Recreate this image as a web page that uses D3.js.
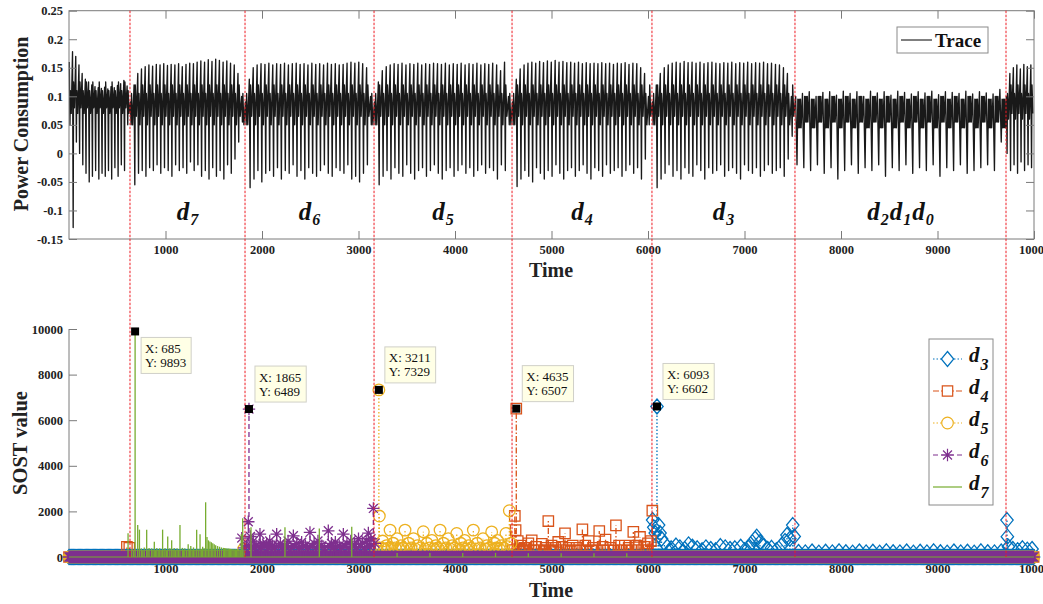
<!DOCTYPE html>
<html>
<head>
<meta charset="utf-8">
<script src="https://cdn.jsdelivr.net/npm/d3@7"></script>
<style>
  body { margin: 0; background: #fff; }
  svg { display: block; }
</style>
</head>
<body>
<svg id="chart" width="1043" height="604"></svg>
<script>
// ---------------- data ----------------
const timeTicks = [1000, 2000, 3000, 4000, 5000, 6000, 7000, 8000, 9000, 10000];
const powerTicks = [-0.15, -0.1, -0.05, 0, 0.05, 0.1, 0.15, 0.2, 0.25];
const sostTicks = [0, 2000, 4000, 6000, 8000, 10000];

// detected change points (time)
const changePoints = [632, 1824, 3161, 4591, 6041, 7523, 9710];
// trace segments between change points
const segmentBounds = [0, 632, 1824, 3161, 4591, 6041, 7523, 9710, 10000];
const segmentLabels = [[], ["7"], ["6"], ["5"], ["4"], ["3"], ["2", "1", "0"], []];

// per-segment cycle peaks / troughs of the power trace
const traceHighs = [
  [0.16, 0.178, 0.17, 0.155, 0.14, 0.13, 0.125, 0.12, 0.117, 0.115, 0.114, 0.116, 0.113, 0.117, 0.115, 0.119, 0.122, 0.128, 0.118],
  [0.09, 0.12, 0.14, 0.148, 0.152, 0.155, 0.153, 0.156, 0.155, 0.157, 0.154, 0.156, 0.155, 0.157, 0.152, 0.156, 0.158, 0.157, 0.16, 0.162, 0.16, 0.164, 0.161, 0.165, 0.163, 0.16, 0.162, 0.158, 0.155, 0.14, 0.1],
  [0.09, 0.13, 0.15, 0.155, 0.157, 0.156, 0.158, 0.155, 0.157, 0.156, 0.158, 0.155, 0.157, 0.158, 0.156, 0.157, 0.155, 0.158, 0.156, 0.157, 0.155, 0.158, 0.156, 0.157, 0.155, 0.156, 0.158, 0.16, 0.158, 0.16, 0.157, 0.15, 0.1],
  [0.09, 0.125, 0.145, 0.152, 0.155, 0.157, 0.156, 0.158, 0.155, 0.157, 0.156, 0.158, 0.155, 0.157, 0.156, 0.158, 0.157, 0.156, 0.158, 0.155, 0.157, 0.156, 0.158, 0.155, 0.157, 0.156, 0.158, 0.155, 0.157, 0.156, 0.158, 0.155, 0.145, 0.16, 0.1],
  [0.09, 0.13, 0.148, 0.155, 0.158, 0.16, 0.158, 0.161, 0.159, 0.162, 0.16, 0.163, 0.16, 0.161, 0.159, 0.16, 0.158, 0.16, 0.157, 0.159, 0.157, 0.158, 0.157, 0.159, 0.157, 0.158, 0.156, 0.158, 0.157, 0.159, 0.156, 0.158, 0.157, 0.15, 0.14, 0.1],
  [0.09, 0.12, 0.14, 0.15, 0.155, 0.158, 0.16, 0.158, 0.161, 0.159, 0.16, 0.158, 0.16, 0.157, 0.159, 0.16, 0.158, 0.157, 0.159, 0.158, 0.16, 0.157, 0.159, 0.158, 0.16, 0.157, 0.159, 0.158, 0.16, 0.157, 0.158, 0.156, 0.155, 0.15, 0.14, 0.1],
  [0.1, 0.105, 0.108, 0.1, 0.107, 0.108, 0.102, 0.109, 0.105, 0.108, 0.1, 0.109, 0.106, 0.108, 0.102, 0.109, 0.107, 0.104, 0.108, 0.106, 0.109, 0.103, 0.108, 0.107, 0.105, 0.109, 0.104, 0.108, 0.106, 0.104, 0.112],
  [0.1, 0.14, 0.15, 0.155, 0.148, 0.156, 0.152, 0.155]
];
const traceLows = [
  [0.05, -0.13, 0.02, 0.0, -0.02, -0.035, -0.05, -0.04, -0.03, -0.045, -0.035, -0.04, -0.03, -0.045, -0.025, -0.04, -0.02, -0.03, 0.05],
  [0.05, -0.055, -0.035, -0.03, -0.04, -0.025, -0.03, -0.02, -0.035, -0.025, -0.03, -0.04, -0.02, -0.03, -0.025, -0.035, -0.015, -0.03, -0.02, -0.04, -0.03, -0.045, -0.025, -0.04, -0.03, -0.045, -0.02, -0.035, -0.01, 0.02, 0.055],
  [0.05, -0.06, -0.045, -0.03, -0.05, -0.035, -0.03, -0.04, -0.025, -0.045, -0.03, -0.035, -0.02, -0.04, -0.03, -0.045, -0.025, -0.035, -0.04, -0.03, -0.02, -0.035, -0.04, -0.025, -0.03, -0.035, -0.02, -0.045, -0.04, -0.05, -0.035, -0.02, 0.05],
  [0.05, -0.055, -0.04, -0.03, -0.045, -0.025, -0.035, -0.04, -0.02, -0.035, -0.045, -0.03, -0.025, -0.04, -0.03, -0.02, -0.035, -0.045, -0.03, -0.025, -0.04, -0.03, -0.02, -0.035, -0.025, -0.04, -0.03, -0.02, -0.035, -0.025, -0.03, -0.045, -0.02, -0.03, 0.05],
  [0.05, -0.058, -0.045, -0.03, -0.04, -0.05, -0.025, -0.035, -0.045, -0.03, -0.04, -0.02, -0.035, -0.045, -0.03, -0.025, -0.04, -0.03, -0.02, -0.035, -0.045, -0.025, -0.03, -0.04, -0.02, -0.035, -0.03, -0.025, -0.04, -0.03, -0.02, -0.035, -0.025, -0.045, -0.01, 0.05],
  [0.05, -0.06, -0.045, -0.035, -0.02, -0.04, -0.03, -0.045, -0.025, -0.035, -0.04, -0.02, -0.03, -0.045, -0.025, -0.035, -0.03, -0.02, -0.04, -0.03, -0.025, -0.035, -0.045, -0.02, -0.03, -0.035, -0.025, -0.04, -0.03, -0.02, -0.035, -0.03, -0.025, -0.04, -0.01, 0.03],
  [-0.02, -0.025, -0.03, -0.02, -0.035, -0.025, -0.045, -0.03, -0.02, -0.035, -0.025, -0.03, -0.02, -0.04, -0.025, -0.03, -0.02, -0.035, -0.025, -0.03, -0.02, -0.04, -0.025, -0.03, -0.02, -0.035, -0.03, -0.025, -0.02, -0.03, 0.02],
  [0.0, -0.03, -0.02, -0.035, -0.015, -0.03, -0.02, -0.025]
];
// dense core of each segment: two upper and two lower levels, ripples per cycle
const traceBandLo = [[0.08, 0.07], [0.065, 0.05], [0.065, 0.05], [0.065, 0.05], [0.065, 0.05], [0.065, 0.05], [0.055, 0.045], [0.07, 0.06]];
const traceBandHi = [[0.11, 0.125], [0.105, 0.12], [0.105, 0.12], [0.105, 0.12], [0.105, 0.12], [0.105, 0.12], [0.095, 0.1], [0.105, 0.12]];
const traceRipples = [1, 1, 1, 1, 1, 1, 3, 1];

// SOST values: non-zero samples [time, value]; every other sample is 0
const d3Points = [[6048,1620],[6060,1300],[6075,1050],[6093,6602],[6110,1400],[6125,1050],[6140,800],[6170,600],[6200,450],[6240,380],[6290,500],[6330,420],[6380,350],[6420,550],[6460,450],[6510,380],[6560,300],[6600,420],[6650,350],[6700,300],[6750,480],[6800,420],[6850,350],[6900,380],[6960,450],[7000,300],[7040,400],[7080,650],[7110,800],[7126,890],[7160,650],[7200,500],[7240,350],[7280,400],[7330,300],[7380,500],[7420,700],[7440,960],[7470,800],[7500,1400],[7515,900],
  [7560,220],[7630,200],[7700,240],[7770,190],[7840,230],[7910,200],[7980,250],[8050,210],[8120,190],[8190,240],[8260,200],[8330,230],[8400,190],[8470,250],[8540,210],[8610,200],[8680,240],[8750,190],[8820,230],[8890,200],[8960,250],[9030,210],[9100,190],[9170,240],[9240,200],[9310,230],[9380,190],[9450,250],[9520,210],[9590,200],[9660,240],
  [9720,1620],[9724,890],[9735,450],[9780,350],[9830,300],[9880,380],[9930,320],[9980,350]];
const d4Points = [[600,450],[625,400],[4600,300],[4620,1800],[4628,1180],[4635,6507],[4650,700],[4665,350],[4680,500],[4700,300],[4720,400],[4740,250],[4760,600],[4795,730],[4820,300],[4840,450],[4870,300],[4900,580],[4920,250],[4940,400],[4967,1577],[4985,300],[5000,500],[5020,250],[5040,400],[5070,660],[5090,300],[5110,450],[5140,1036],[5160,300],[5180,400],[5200,250],[5220,500],[5240,300],[5260,400],[5290,280],[5320,1210],[5350,500],[5365,300],[5385,700],[5410,280],[5430,400],[5460,300],[5495,1140],[5530,450],[5545,280],[5560,760],[5585,300],[5610,400],[5640,280],[5668,1387],[5700,500],[5730,300],[5760,500],[5780,280],[5800,400],[5825,300],[5848,1100],[5880,500],[5900,300],[5917,880],[5940,300],[5960,450],[5980,300],[6000,600],[6030,700],[6045,2030]];
const d5Points = [[1810,350],[3190,400],[3211,7329],[3216,1796],[3235,400],[3250,700],[3270,350],[3290,500],[3310,400],[3327,1180],[3345,350],[3360,600],[3380,400],[3400,800],[3420,350],[3440,500],[3460,400],[3482,1180],[3500,350],[3520,600],[3545,400],[3570,800],[3590,350],[3610,500],[3640,400],[3672,1110],[3690,350],[3710,600],[3735,400],[3760,730],[3780,350],[3800,500],[3820,400],[3845,1180],[3865,350],[3880,600],[3905,400],[3930,800],[3950,350],[3970,500],[3995,400],[4018,1030],[4040,350],[4060,600],[4080,400],[4100,730],[4120,350],[4140,500],[4165,400],[4190,1180],[4210,350],[4230,600],[4260,400],[4290,800],[4310,350],[4330,500],[4355,400],[4380,1100],[4395,350],[4410,600],[4425,400],[4440,730],[4460,350],[4480,500],[4505,400],[4528,1030],[4545,450],[4563,2030],[4580,600]];
const d6Points = [[1790,830],[1815,400],[1840,500],[1858,1546],[1865,6489],[1880,900],[1895,450],[1910,700],[1925,400],[1940,500],[1960,450],[1979,1000],[1995,400],[2010,600],[2030,450],[2048,580],[2065,400],[2080,700],[2095,450],[2110,500],[2130,400],[2152,1000],[2170,450],[2190,600],[2210,400],[2230,500],[2250,450],[2270,700],[2300,400],[2325,930],[2340,450],[2360,600],[2385,400],[2411,650],[2430,450],[2450,500],[2475,400],[2497,1080],[2520,450],[2540,600],[2560,400],[2580,700],[2600,450],[2620,500],[2650,400],[2687,1150],[2705,450],[2720,600],[2740,400],[2760,650],[2780,450],[2800,500],[2820,400],[2843,1000],[2860,450],[2880,600],[2900,400],[2920,700],[2940,450],[2960,550],[2980,400],[3000,800],[3020,450],[3040,600],[3060,400],[3080,700],[3102,1050],[3115,450],[3130,800],[3154,2130],[3170,600]];
const d7Points = [[612,1040],[650,350],[670,300],[685,9893],[712,1400],[730,1200],[750,380],[765,300],[780,420],[805,1200],[818,320],[830,400],[855,380],[870,320],[884,670],[898,300],[910,400],[925,320],[940,380],[955,300],[970,1200],[985,320],[995,400],[1010,300],[1023,900],[1045,380],[1064,730],[1078,320],[1090,400],[1105,300],[1120,380],[1135,320],[1150,1400],[1175,400],[1188,320],[1200,380],[1218,320],[1235,560],[1250,340],[1262,480],[1277,330],[1290,420],[1305,330],[1323,1200],[1340,340],[1358,1000],[1372,350],[1385,450],[1400,380],[1416,2400],[1430,880],[1445,730],[1460,680],[1475,650],[1490,600],[1505,560],[1520,520],[1540,480],[1560,450],[1580,420],[1600,400],[1612,390],[1625,380],[1637,375],[1650,370],[1662,365],[1675,360],[1687,355],[1700,350],[1712,345],[1725,340],[1737,335],[1750,330],[1762,325],[1775,320],[1785,1000],[1800,1700],[1815,300],[1886,1300],[2238,1300],[2594,1250],[2930,1330],[3400,180],[3740,180],[4080,180],[4420,180],[4760,160],[5100,160],[5440,160],[5780,160]];
const zeroSampleStep = 12;   // spacing of the zero-valued samples drawn with markers

// annotated maxima
const peakTips = [
  { x: 685, y: 9893, below: true },
  { x: 1865, y: 6489 },
  { x: 3211, y: 7329 },
  { x: 4635, y: 6507 },
  { x: 6093, y: 6602 }
];

// ---------------- setup ----------------
const svg = d3.select("#chart");
const SERIF = "'Liberation Serif', 'Times New Roman', serif";
const AXIS_GRAY = "#7a7a7a";
const LABEL_COLOR = "#1e1e1e";

const x = d3.scaleLinear().domain([0, 10000]).range([69, 1034]);
const yTop = d3.scaleLinear().domain([-0.15, 0.25]).range([239, 10.7]);
const yBot = d3.scaleLinear().domain([0, 10000]).range([557, 329]);

function styleAxis(g, showLabels) {
  g.select(".domain").remove();
  g.selectAll(".tick line").attr("stroke", AXIS_GRAY).attr("stroke-width", 1);
  g.selectAll(".tick text")
    .attr("font-family", SERIF).attr("font-weight", "bold")
    .attr("font-size", "12.5px").attr("fill", LABEL_COLOR);
  if (!showLabels) g.selectAll(".tick text").remove();
}

// ---------------- upper panel: power trace ----------------
const tracePanel = svg.append("g");

// trace vertices from cycle peaks/troughs
const tracePoints = [];
segmentBounds.slice(0, -1).forEach((s, k) => {
  const e = segmentBounds[k + 1];
  const hi = traceHighs[k], lo = traceLows[k];
  const n = hi.length, p = (e - s) / n;
  const r = traceRipples[k];
  for (let i = 0; i < n; i++) {
    const t0 = s + i * p;
    const bHi = traceBandHi[k][i % 2], bLo = traceBandLo[k][(i + 1) % 2];
    tracePoints.push([t0 + 0.1 * p, hi[i]]);
    tracePoints.push([t0 + 0.3 * p, lo[i]]);
    for (let j = 0; j < r; j++) {
      const f = 0.42 + 0.58 * j / r;
      tracePoints.push([t0 + f * p, bHi]);
      tracePoints.push([t0 + (f + 0.28 / r) * p, bLo]);
    }
  }
});

tracePanel.append("path")
  .datum(tracePoints)
  .attr("fill", "none")
  .attr("stroke", "#000")
  .attr("stroke-opacity", 0.9)
  .attr("stroke-width", 1.35)
  .attr("stroke-linejoin", "round")
  .attr("d", d3.line().x(d => x(d[0])).y(d => yTop(d[1])));

// axes with inward ticks, boxed
tracePanel.append("g").attr("transform", "translate(0,239)")
  .call(d3.axisBottom(x).tickValues(timeTicks).tickSize(-8).tickPadding(6).tickFormat(d3.format("d")))
  .call(g => styleAxis(g, true));
tracePanel.append("g").attr("transform", "translate(0,10.7)")
  .call(d3.axisTop(x).tickValues(timeTicks).tickSize(-8))
  .call(g => styleAxis(g, false));
tracePanel.append("g").attr("transform", "translate(69,0)")
  .call(d3.axisLeft(yTop).tickValues(powerTicks).tickSize(-8).tickPadding(6).tickFormat(d => String(+d.toFixed(2))))
  .call(g => styleAxis(g, true));
tracePanel.append("g").attr("transform", "translate(1034,0)")
  .call(d3.axisRight(yTop).tickValues(powerTicks).tickSize(-8))
  .call(g => styleAxis(g, false));
tracePanel.append("rect")
  .attr("x", 69).attr("y", 10.7).attr("width", 1034 - 69).attr("height", 239 - 10.7)
  .attr("fill", "none").attr("stroke", AXIS_GRAY).attr("stroke-width", 1);

// segment labels d_k
segmentLabels.forEach((subs, k) => {
  if (!subs.length) return;
  const cx = x((segmentBounds[k] + segmentBounds[k + 1]) / 2);
  const t = tracePanel.append("text")
    .attr("x", cx).attr("y", 220)
    .attr("text-anchor", "middle")
    .attr("font-family", SERIF).attr("font-weight", "bold").attr("font-style", "italic")
    .attr("font-size", "25px").attr("fill", "#111");
  subs.forEach((s, i) => {
    t.append("tspan").attr("dy", i === 0 ? 0 : -5).attr("dx", i === 0 ? 0 : 1).text("d");
    t.append("tspan").attr("font-size", "16px").attr("dy", 5).attr("dx", 1).text(s);
  });
});

// legend
tracePanel.append("rect").attr("x", 897).attr("y", 27).attr("width", 91).attr("height", 26)
  .attr("fill", "#fff").attr("stroke", "#8a8a8a");
tracePanel.append("line").attr("x1", 901).attr("x2", 932).attr("y1", 40).attr("y2", 40)
  .attr("stroke", "#000").attr("stroke-width", 1);
tracePanel.append("text").attr("x", 935).attr("y", 47)
  .attr("font-family", SERIF).attr("font-weight", "bold").attr("font-size", "19px")
  .attr("fill", "#111").text("Trace");

// axis titles
tracePanel.append("text")
  .attr("transform", "translate(28,124) rotate(-90)")
  .attr("text-anchor", "middle")
  .attr("font-family", SERIF).attr("font-weight", "bold").attr("font-size", "20px")
  .attr("fill", "#222").text("Power Consumption");
tracePanel.append("text").attr("x", 551).attr("y", 277).attr("text-anchor", "middle")
  .attr("font-family", SERIF).attr("font-weight", "bold").attr("font-size", "20px")
  .attr("fill", "#222").text("Time");

// ---------------- lower panel: SOST values ----------------
const sostPanel = svg.append("g");

sostPanel.append("g").attr("transform", "translate(69,0)")
  .call(d3.axisLeft(yBot).tickValues(sostTicks).tickSize(-8).tickPadding(6).tickFormat(d3.format("d")))
  .call(g => styleAxis(g, true));
sostPanel.append("line").attr("x1", 69).attr("x2", 69).attr("y1", 329).attr("y2", 557)
  .attr("stroke", AXIS_GRAY);
sostPanel.append("g").attr("transform", "translate(0,557)")
  .call(d3.axisBottom(x).tickValues(timeTicks).tickSize(-8).tickPadding(7).tickFormat(d3.format("d")))
  .call(g => styleAxis(g, true));
sostPanel.append("line").attr("x1", 69).attr("x2", 1034).attr("y1", 557).attr("y2", 557)
  .attr("stroke", AXIS_GRAY);

const markerShapes = {
  diamond: (cx, cy) => `M${cx},${cy - 7.5}L${cx + 6.2},${cy}L${cx},${cy + 7.5}L${cx - 6.2},${cy}Z`,
  square: (cx, cy) => `M${cx - 5.2},${cy - 5.2}h10.4v10.4h-10.4Z`,
  circle: (cx, cy) => `M${cx - 5.8},${cy}a5.8,5.8 0 1,0 11.6,0a5.8,5.8 0 1,0 -11.6,0Z`,
  asterisk: (cx, cy) => {
    const r = 6.2, q = r * 0.72;
    return `M${cx - r},${cy}H${cx + r}M${cx},${cy - r}V${cy + r}` +
      `M${cx - q},${cy - q}L${cx + q},${cy + q}M${cx - q},${cy + q}L${cx + q},${cy - q}`;
  },
  none: null
};

const seriesDefs = [
  { key: "3", pts: d3Points, color: "#0072BD", dash: "1.5,2", marker: "diamond" },
  { key: "4", pts: d4Points, color: "#D95319", dash: "6,2,1.5,2", marker: "square" },
  { key: "5", pts: d5Points, color: "#EDB120", dash: "1.5,2", marker: "circle" },
  { key: "6", pts: d6Points, color: "#7E2F8E", dash: "5,3", marker: "asterisk" },
  { key: "7", pts: d7Points, color: "#77AC30", dash: null, marker: "none" }
];

const zeroSamples = d3.range(0, 10000 + 1, zeroSampleStep);

seriesDefs.forEach(s => {
  const g = sostPanel.append("g");
  // zero-level line
  g.append("line").attr("x1", x(0)).attr("x2", x(10000))
    .attr("y1", yBot(0)).attr("y2", yBot(0))
    .attr("stroke", s.color).attr("stroke-width", 1.2)
    .attr("stroke-dasharray", s.dash);
  // markers on the zero-valued samples
  const shape = markerShapes[s.marker];
  if (shape) {
    g.append("path")
      .attr("d", zeroSamples.map(t => shape(x(t), yBot(0))).join(""))
      .attr("fill", "none").attr("stroke", s.color).attr("stroke-width", 1.3);
  }
  // excursions from zero
  g.selectAll("line.stem").data(s.pts).join("line").attr("class", "stem")
    .attr("x1", d => x(d[0])).attr("x2", d => x(d[0]))
    .attr("y1", yBot(0)).attr("y2", d => yBot(d[1]))
    .attr("stroke", s.color).attr("stroke-width", 1.3)
    .attr("stroke-dasharray", s.dash);
  if (shape) {
    g.append("path")
      .attr("d", s.pts.map(d => shape(x(d[0]), yBot(d[1]))).join(""))
      .attr("fill", "none").attr("stroke", s.color).attr("stroke-width", 1.3);
  }
});

// change-point guides spanning both panels
svg.append("g").selectAll("line").data(changePoints).join("line")
  .attr("x1", d => x(d)).attr("x2", d => x(d))
  .attr("y1", yTop(0.25)).attr("y2", yBot(0))
  .attr("stroke", "#ee1c24").attr("stroke-width", 1)
  .attr("stroke-dasharray", "2.5,1.5");

// data tips on the maxima
const tips = svg.append("g");
peakTips.forEach(p => {
  const px = x(p.x), py = yBot(p.y);
  tips.append("rect").attr("x", px - 4).attr("y", py - 4).attr("width", 8).attr("height", 8)
    .attr("fill", "#000");
  const boxTop = p.below ? py + 6 : py - 43;
  const left = px + 6;
  const g = tips.append("g");
  const rect = g.append("rect").attr("x", left).attr("y", boxTop).attr("height", 36)
    .attr("fill", "#ffffe6").attr("stroke", "#d0d0c8").attr("stroke-width", 1);
  const t1 = g.append("text").attr("x", left + 4).attr("y", boxTop + 15.5)
    .attr("font-family", SERIF).attr("font-size", "13px").attr("fill", "#111")
    .text(`X: ${p.x}`);
  const t2 = g.append("text").attr("x", left + 4).attr("y", boxTop + 29.5)
    .attr("font-family", SERIF).attr("font-size", "13px").attr("fill", "#111")
    .text(`Y: ${p.y}`);
  const w = Math.max(t1.node().getComputedTextLength(), t2.node().getComputedTextLength());
  rect.attr("width", w + 9);
});

// legend of detectors
const lg = svg.append("g");
lg.append("rect").attr("x", 929).attr("y", 339).attr("width", 64).attr("height", 166)
  .attr("fill", "#fff").attr("stroke", "#8a8a8a");
const rowY = [359, 391, 423, 455, 487];
seriesDefs.forEach((s, i) => {
  const cy = rowY[i];
  lg.append("line").attr("x1", 933).attr("x2", 962).attr("y1", cy).attr("y2", cy)
    .attr("stroke", s.color).attr("stroke-width", 1.2).attr("stroke-dasharray", s.dash);
  const shape = markerShapes[s.marker];
  if (shape) {
    lg.append("path").attr("d", shape(947.5, cy))
      .attr("fill", "#fff").attr("stroke", s.color).attr("stroke-width", 1.2);
  }
  const t = lg.append("text").attr("x", 969).attr("y", cy + 3)
    .attr("font-family", SERIF).attr("font-weight", "bold").attr("font-style", "italic")
    .attr("font-size", "21px").attr("fill", "#111");
  t.append("tspan").text("d");
  t.append("tspan").attr("font-size", "16px").attr("dy", 8).attr("dx", 1).text(s.key);
});

// axis titles
sostPanel.append("text")
  .attr("transform", "translate(27,443) rotate(-90)")
  .attr("text-anchor", "middle")
  .attr("font-family", SERIF).attr("font-weight", "bold").attr("font-size", "20.5px")
  .attr("fill", "#222").text("SOST value");
sostPanel.append("text").attr("x", 551).attr("y", 597).attr("text-anchor", "middle")
  .attr("font-family", SERIF).attr("font-weight", "bold").attr("font-size", "20px")
  .attr("fill", "#222").text("Time");
</script>
</body>
</html>
